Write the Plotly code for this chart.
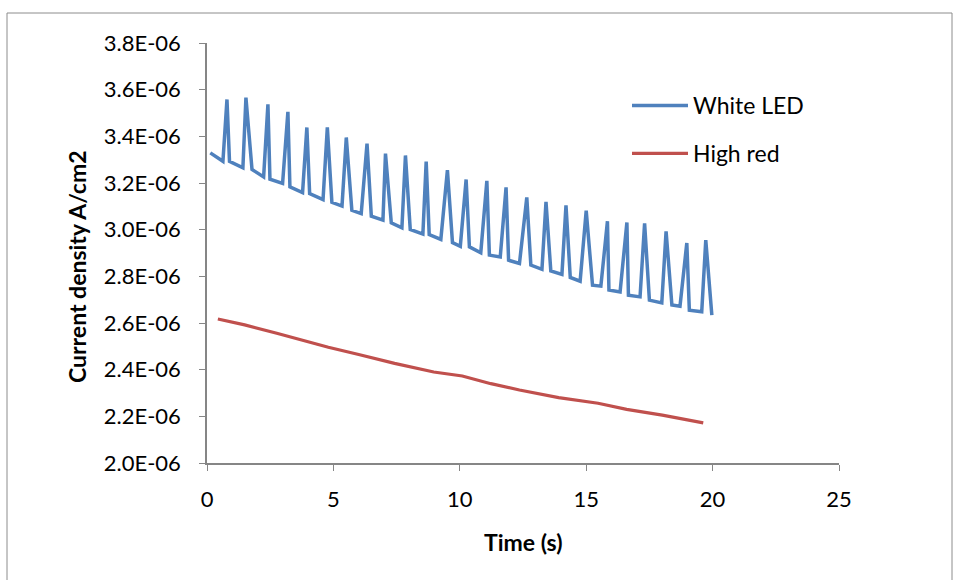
import plotly.graph_objects as go

# White LED: current density under a chopped white LED (time in s, A/cm2)
white_t = [0.13, 0.63, 0.79, 0.89, 1.42, 1.54, 1.78, 2.24, 2.41, 2.49, 2.99, 3.20, 3.28,
           3.78, 3.95, 4.06, 4.59, 4.76, 4.94, 5.34, 5.51, 5.73, 6.10, 6.33, 6.50, 6.96,
           7.06, 7.29, 7.71, 7.85, 8.04, 8.54, 8.67, 8.79, 9.25, 9.51, 9.71, 10.02, 10.25,
           10.38, 10.83, 11.07, 11.17, 11.60, 11.83, 11.93, 12.36, 12.65, 12.81, 13.25,
           13.41, 13.60, 14.04, 14.20, 14.37, 14.76, 15.00, 15.25, 15.58, 15.84, 15.90,
           16.34, 16.61, 16.67, 17.13, 17.31, 17.50, 17.99, 18.16, 18.39, 18.71, 18.98,
           19.08, 19.57, 19.73, 19.97]
white_j = [3.329, 3.293, 3.558, 3.293, 3.265, 3.566, 3.258, 3.226, 3.537, 3.216, 3.198,
           3.505, 3.183, 3.159, 3.438, 3.155, 3.129, 3.438, 3.117, 3.101, 3.395, 3.083,
           3.069, 3.369, 3.058, 3.041, 3.326, 3.029, 3.008, 3.318, 3.001, 2.981, 3.292,
           2.979, 2.958, 3.255, 2.945, 2.929, 3.215, 2.926, 2.901, 3.209, 2.891, 2.883,
           3.181, 2.869, 2.855, 3.138, 2.848, 2.830, 3.119, 2.823, 2.808, 3.104, 2.795,
           2.779, 3.081, 2.762, 2.758, 3.036, 2.741, 2.733, 3.031, 2.719, 2.712, 3.027,
           2.698, 2.686, 2.993, 2.677, 2.672, 2.943, 2.655, 2.648, 2.955, 2.634]

# High red illumination
red_t = [0.43, 1.49, 2.76, 4.80, 6.00, 7.42, 8.97, 10.10, 11.23, 12.36, 13.91, 15.47,
         16.60, 18.01, 19.63]
red_j = [2.617, 2.592, 2.556, 2.496, 2.465, 2.427, 2.390, 2.373, 2.340, 2.313, 2.280,
         2.256, 2.230, 2.205, 2.172]

# Axis ticks
y_ticks = [2.0, 2.2, 2.4, 2.6, 2.8, 3.0, 3.2, 3.4, 3.6, 3.8]
y_tick_text = ["2.0E-06", "2.2E-06", "2.4E-06", "2.6E-06", "2.8E-06", "3.0E-06",
               "3.2E-06", "3.4E-06", "3.6E-06", "3.8E-06"]
x_ticks = [0, 5, 10, 15, 20, 25]

scale = 1e-6
FONT = "Lato, Liberation Sans, sans-serif"
AXIS_GREY = "#868686"

fig = go.Figure()
fig.add_trace(go.Scatter(
    x=white_t, y=[v * scale for v in white_j], mode="lines", name="White LED",
    legendgroup="a", line=dict(color="#4F81BD", width=3.5)))
fig.add_trace(go.Scatter(
    x=red_t, y=[v * scale for v in red_j], mode="lines", name="High red",
    legendgroup="b", line=dict(color="#C0504D", width=3.2)))

L, R, T, B = 207, 116, 43, 117
W, H = 955, 580
pw, ph = W - L - R, H - T - B

def px_x(p):
    return (p - L) / pw

def px_y(p):
    return (H - B - p) / ph

fig.update_layout(
    width=W, height=H,
    margin=dict(l=L, r=R, t=T, b=B),
    paper_bgcolor="white", plot_bgcolor="white",
    font=dict(family=FONT, size=22, color="black"),
    showlegend=True,
    legend=dict(x=px_x(627), y=px_y(84), xanchor="left", yanchor="top",
                bgcolor="rgba(0,0,0,0)", tracegroupgap=15, itemwidth=56,
                font=dict(family=FONT, size=23)),
    xaxis=dict(range=[0, 25], tickvals=x_ticks, showgrid=False, zeroline=False,
               showline=True, linecolor=AXIS_GREY, linewidth=1.5,
               ticks="outside", ticklen=6, tickcolor=AXIS_GREY, tickwidth=1,
               ticklabelstandoff=10),
    yaxis=dict(range=[2.0 * scale, 3.8 * scale],
               tickvals=[v * scale for v in y_ticks], ticktext=y_tick_text,
               showgrid=False, zeroline=False,
               showline=True, linecolor=AXIS_GREY, linewidth=1.5,
               ticks="outside", ticklen=6, tickcolor=AXIS_GREY, tickwidth=1,
               ticklabelstandoff=14),
    annotations=[
        dict(text="<b>Current density A/cm2</b>", xref="paper", yref="paper",
             x=px_x(77), y=px_y(267), textangle=-90, showarrow=False,
             xanchor="center", yanchor="middle", font=dict(size=23)),
        dict(text="<b>Time (s)</b>", xref="paper", yref="paper",
             x=px_x(523), y=px_y(542), showarrow=False,
             xanchor="center", yanchor="middle", font=dict(size=23)),
    ],
    shapes=[
        dict(type="rect", xref="paper", yref="paper",
             x0=px_x(7), x1=px_x(952), y0=px_y(600), y1=px_y(13),
             line=dict(color="#8c8c8c", width=1), fillcolor="rgba(0,0,0,0)",
             layer="below"),
    ],
)

fig.write_html("out.html")
